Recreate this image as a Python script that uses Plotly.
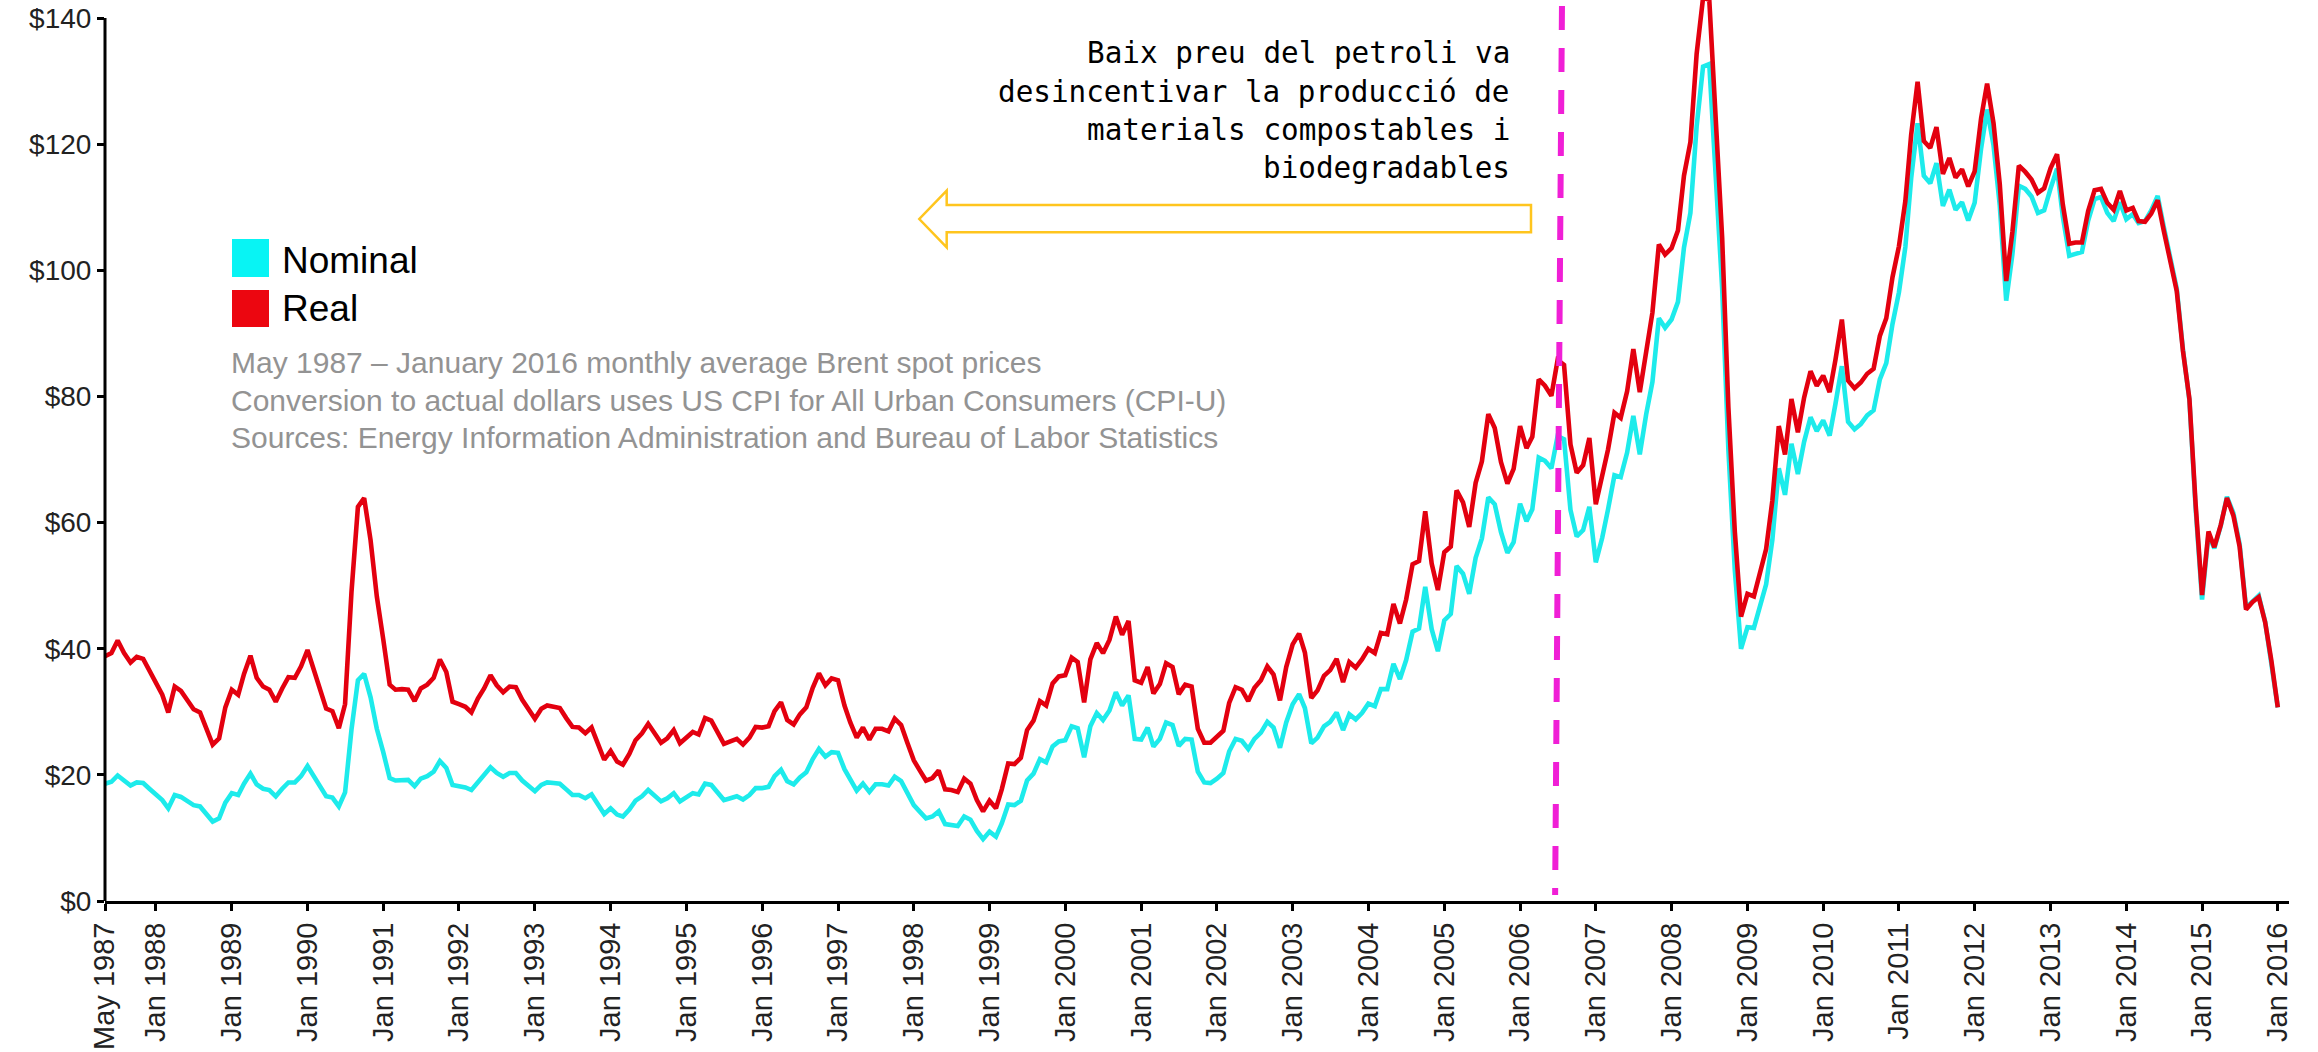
import plotly.graph_objects as go
import pandas as pd

# ---------------- data (monthly average Brent spot, USD/bbl) ----------------
START_MONTH = "1987-05-01"

nominal = [
    # 1987 May-Dec
    18.6, 18.9, 19.9, 19.0, 18.3, 18.8, 18.7, 17.8,
    # 1988
    16.8, 16.0, 14.7, 16.8, 16.5, 15.8, 15.2, 15.0, 13.8, 12.6, 13.1, 15.6,
    # 1989
    17.1, 16.8, 18.6, 20.2, 18.5, 17.8, 17.6, 16.6, 17.8, 18.8, 18.8, 19.8,
    # 1990
    21.4, 19.8, 18.4, 16.6, 16.4, 15.0, 17.2, 27.2, 35.0, 36.0, 32.3, 27.3,
    # 1991
    23.6, 19.5, 19.1, 19.2, 19.2, 18.2, 19.4, 19.8, 20.5, 22.2, 21.1, 18.4,
    # 1992
    18.2, 18.0, 17.6, 18.9, 19.9, 21.2, 20.3, 19.7, 20.3, 20.3, 19.1, 18.2,
    # 1993
    17.4, 18.4, 18.8, 18.7, 18.6, 17.7, 16.8, 16.8, 16.3, 16.9, 15.2, 13.8,
    # 1994
    14.7, 13.7, 13.4, 14.5, 15.9, 16.6, 17.6, 16.7, 15.8, 16.3, 17.1, 15.8,
    # 1995
    16.5, 17.1, 16.9, 18.6, 18.4, 17.2, 16.0, 16.3, 16.6, 16.1, 16.8, 17.9,
    # 1996
    17.9, 18.1, 19.8, 20.8, 19.0, 18.5, 19.6, 20.4, 22.5, 24.1, 22.9, 23.6,
    # 1997
    23.5, 20.9, 19.1, 17.5, 18.6, 17.3, 18.5, 18.5, 18.3, 19.7, 19.0, 17.1,
    # 1998
    15.2, 14.1, 13.1, 13.4, 14.2, 12.2, 12.1, 11.9, 13.4, 12.9, 11.1, 9.8,
    # 1999
    11.0, 10.2, 12.3, 15.3, 15.2, 15.9, 19.1, 20.2, 22.5, 22.0, 24.5, 25.3,
    # 2000
    25.5, 27.7, 27.4, 22.8, 27.7, 29.8, 28.7, 30.2, 33.1, 31.0, 32.6, 25.7,
    # 2001
    25.6, 27.5, 24.5, 25.7, 28.3, 27.9, 24.6, 25.7, 25.6, 20.5, 18.8, 18.7,
    # 2002
    19.4, 20.3, 23.7, 25.7, 25.4, 24.1, 25.7, 26.7, 28.4, 27.5, 24.3, 28.3,
    # 2003
    31.2, 32.8, 30.6, 25.0, 25.9, 27.7, 28.4, 29.9, 27.1, 29.6, 28.8, 29.8,
    # 2004
    31.3, 30.9, 33.6, 33.6, 37.6, 35.2, 38.2, 42.7, 43.2, 49.8, 43.1, 39.6,
    # 2005
    44.5, 45.5, 53.1, 51.9, 48.7, 54.4, 57.5, 64.0, 62.9, 58.5, 55.2, 56.9,
    # 2006
    63.0, 60.2, 62.1, 70.3, 69.8, 68.6, 73.7, 73.2, 62.0, 57.8, 58.8, 62.5,
    # 2007
    53.7, 57.6, 62.1, 67.5, 67.2, 71.1, 76.9, 70.8, 77.2, 82.3, 92.4, 90.9,
    # 2008
    92.2, 95.0, 103.6, 109.1, 122.8, 132.3, 132.7, 113.2, 97.2, 71.6, 52.5, 40.0,
    # 2009
    43.4, 43.3, 46.5, 50.2, 57.3, 68.6, 64.4, 72.5, 67.7, 72.8, 76.7, 74.5,
    # 2010
    76.2, 73.8, 78.8, 84.8, 76.0, 74.8, 75.6, 77.0, 77.8, 82.7, 85.3, 91.5,
    # 2011
    96.5, 103.7, 114.6, 123.3, 115.0, 113.8, 117.0, 110.2, 112.8, 109.6, 110.8, 107.9,
    # 2012
    110.7, 119.3, 125.5, 119.8, 110.3, 95.2, 102.6, 113.4, 112.9, 111.7, 109.1, 109.5,
    # 2013
    113.0, 116.1, 108.5, 102.3, 102.6, 102.9, 107.9, 111.3, 111.6, 109.1, 107.8, 110.8,
    # 2014
    108.1, 108.9, 107.5, 107.8, 109.5, 111.8, 106.8, 101.6, 97.1, 87.4, 79.4, 62.3,
    # 2015
    47.8, 58.1, 55.9, 59.5, 64.1, 61.5, 56.6, 46.5, 47.6, 48.4, 44.3, 38.0,
    # 2016 Jan
    30.7,
]

real = [
    # 1987 May-Dec
    38.8, 39.3, 41.3, 39.3, 37.8, 38.7, 38.4, 36.5,
    # 1988
    34.4, 32.7, 29.9, 34.0, 33.3, 31.7, 30.4, 29.9, 27.3, 24.8, 25.8, 30.7,
    # 1989
    33.5, 32.7, 36.0, 38.9, 35.4, 34.0, 33.5, 31.6, 33.7, 35.5, 35.4, 37.2,
    # 1990
    39.8, 36.6, 33.9, 30.5, 30.1, 27.4, 31.2, 49.0, 62.5, 63.9, 57.2, 48.3,
    # 1991
    41.5, 34.3, 33.5, 33.6, 33.5, 31.7, 33.7, 34.3, 35.4, 38.3, 36.3, 31.6,
    # 1992
    31.2, 30.8, 29.9, 32.1, 33.7, 35.8, 34.2, 33.1, 34.0, 33.9, 31.9, 30.4,
    # 1993
    28.9, 30.5, 31.0, 30.8, 30.6, 29.0, 27.6, 27.5, 26.6, 27.5, 24.7, 22.4,
    # 1994
    23.8, 22.1, 21.6, 23.3, 25.5, 26.6, 28.1, 26.6, 25.1, 25.8, 27.1, 25.0,
    # 1995
    26.0, 26.8, 26.4, 29.0, 28.6, 26.7, 24.9, 25.3, 25.7, 24.8, 25.9, 27.6,
    # 1996
    27.5, 27.7, 30.1, 31.5, 28.7, 28.0, 29.6, 30.7, 33.8, 36.1, 34.2, 35.3,
    # 1997
    35.0, 31.0, 28.3, 25.9, 27.5, 25.6, 27.3, 27.3, 26.9, 28.9, 27.9, 25.1,
    # 1998
    22.3, 20.6, 19.1, 19.5, 20.7, 17.7, 17.6, 17.3, 19.4, 18.6, 16.0, 14.2,
    # 1999
    15.9, 14.7, 17.7, 21.8, 21.7, 22.7, 27.1, 28.6, 31.7, 31.0, 34.5, 35.6,
    # 2000
    35.8, 38.6, 37.9, 31.5, 38.3, 40.9, 39.3, 41.4, 45.1, 42.2, 44.4, 35.0,
    # 2001
    34.6, 37.1, 32.9, 34.4, 37.7, 37.1, 32.8, 34.3, 34.0, 27.3, 25.1, 25.1,
    # 2002
    26.0, 27.0, 31.4, 33.9, 33.5, 31.7, 33.8, 35.0, 37.2, 35.9, 31.8, 37.1,
    # 2003
    40.7, 42.4, 39.4, 32.2, 33.4, 35.7, 36.6, 38.4, 34.7, 37.9, 37.0, 38.3,
    # 2004
    40.0, 39.3, 42.5, 42.3, 47.1, 44.0, 47.8, 53.4, 53.9, 61.8, 53.5, 49.3,
    # 2005
    55.3, 56.2, 65.1, 63.2, 59.3, 66.3, 69.7, 77.2, 75.0, 69.6, 66.2, 68.5,
    # 2006
    75.3, 71.8, 73.6, 82.7, 81.7, 80.1, 85.8, 85.0, 72.4, 67.9, 69.1, 73.4,
    # 2007
    62.9, 67.1, 71.6, 77.4, 76.6, 80.8, 87.5, 80.7, 87.7, 93.3, 104.1, 102.5,
    # 2008
    103.5, 106.3, 115.0, 120.3, 134.3, 143.2, 142.9, 122.4, 105.2, 78.3, 58.6, 45.1,
    # 2009
    48.7, 48.3, 51.8, 55.8, 63.5, 75.3, 70.8, 79.6, 74.3, 79.8, 84.0, 81.7,
    # 2010
    83.3, 80.7, 85.8, 92.2, 82.5, 81.3, 82.2, 83.6, 84.4, 89.6, 92.4, 98.9,
    # 2011
    103.8, 111.0, 121.5, 129.9, 120.5, 119.4, 122.7, 115.3, 117.8, 114.7, 116.0, 113.3,
    # 2012
    115.7, 124.1, 129.6, 123.3, 113.7, 98.3, 106.1, 116.6, 115.6, 114.4, 112.3, 113.0,
    # 2013
    116.2, 118.4, 110.4, 104.2, 104.4, 104.4, 109.4, 112.7, 112.9, 110.7, 109.6, 112.6,
    # 2014
    109.5, 109.9, 107.8, 107.7, 109.0, 111.1, 106.2, 101.2, 96.7, 87.2, 79.6, 62.9,
    # 2015
    48.5, 58.6, 56.1, 59.6, 63.9, 61.1, 56.2, 46.2, 47.4, 48.2, 44.2, 38.1,
    # 2016 Jan
    30.7,
]

x_tick_labels = [
    "May 1987", "Jan 1988", "Jan 1989", "Jan 1990", "Jan 1991", "Jan 1992",
    "Jan 1993", "Jan 1994", "Jan 1995", "Jan 1996", "Jan 1997", "Jan 1998",
    "Jan 1999", "Jan 2000", "Jan 2001", "Jan 2002", "Jan 2003", "Jan 2004",
    "Jan 2005", "Jan 2006", "Jan 2007", "Jan 2008", "Jan 2009", "Jan 2010",
    "Jan 2011", "Jan 2012", "Jan 2013", "Jan 2014", "Jan 2015", "Jan 2016",
]
y_tick_values = [0, 20, 40, 60, 80, 100, 120, 140]
y_tick_labels = ["$0", "$20", "$40", "$60", "$80", "$100", "$120", "$140"]

series_names = ["Nominal", "Real"]
note_lines = [
    "May 1987 \u2013 January 2016 monthly average Brent spot prices",
    "Conversion to actual dollars uses US CPI for All Urban Consumers (CPI-U)",
    "Sources: Energy Information Administration and Bureau of Labor Statistics",
]
callout_lines = [
    "Baix preu del petroli va",
    "desincentivar la producció de",
    "materials compostables i",
    "biodegradables",
]
marker_date_top = "2006-07-22"
marker_date_bottom = "2006-06-19"

# ---------------- styling ----------------
W, H = 2318, 1052
ML, MR, MT, MB = 105, 29, 0, 151
PW, PH = W - ML - MR, H - MT - MB
Y_MAX = 142.86

CYAN = "#1DEBEB"
RED = "#E3000F"
CYAN_SW = "#08F4F4"
RED_SW = "#EC0610"
MAGENTA = "#F01FD6"
GOLD = "#FFC51E"
SANS = "Liberation Sans, Arial, sans-serif"
MONO = "DejaVu Sans Mono, monospace"


def px(xp):
    return (xp - ML) / PW


def py(yp):
    return (H - MB - yp) / PH


months = pd.date_range(START_MONTH, periods=len(nominal), freq="MS")
tick_vals = pd.to_datetime(x_tick_labels, format="%b %Y")

fig = go.Figure()
fig.add_trace(go.Scatter(x=months, y=nominal, mode="lines", name=series_names[0],
                         line=dict(color=CYAN, width=4.6), showlegend=False))
fig.add_trace(go.Scatter(x=months, y=real, mode="lines", name=series_names[1],
                         line=dict(color=RED, width=4.6), showlegend=False))

shapes = []
# y axis line (only up to $140)
shapes.append(dict(type="line", xref="paper", yref="paper", x0=0, x1=0,
                   y0=0, y1=140 / Y_MAX, line=dict(color="black", width=3),
                   layer="above"))
# magenta dashed marker
shapes.append(dict(type="line", xref="x", yref="y",
                   x0=marker_date_top, y0=141.9, x1=marker_date_bottom, y1=0.95,
                   line=dict(color=MAGENTA, width=6, dash="24px,18px"),
                   layer="above"))
# arrow outline
pts = [(1531, 205), (946.7, 205), (946.7, 190.7), (919.3, 219),
       (946.7, 247.3), (946.7, 232.3), (1531, 232.3)]
path = "M " + " L ".join(f"{px(a):.5f},{py(b):.5f}" for a, b in pts) + " Z"
shapes.append(dict(type="path", xref="paper", yref="paper", path=path,
                   line=dict(color=GOLD, width=2.5), fillcolor="rgba(0,0,0,0)",
                   layer="above"))
# legend swatches
shapes.append(dict(type="rect", xref="paper", yref="paper",
                   x0=px(232), x1=px(269), y0=py(277), y1=py(239),
                   fillcolor=CYAN_SW, line=dict(width=0)))
shapes.append(dict(type="rect", xref="paper", yref="paper",
                   x0=px(232), x1=px(269), y0=py(327), y1=py(290),
                   fillcolor=RED_SW, line=dict(width=0)))

annotations = []
for name, cy in zip(series_names, [260.5, 308.9]):
    annotations.append(dict(text=name, xref="paper", yref="paper", x=px(281),
                            y=py(cy), xanchor="left", yanchor="middle",
                            showarrow=False, borderpad=0,
                            font=dict(family=SANS, size=37, color="#000000")))
for line, cy in zip(note_lines, [362.9, 400.1, 437.3]):
    annotations.append(dict(text=line, xref="paper", yref="paper", x=px(230),
                            y=py(cy), xanchor="left", yanchor="middle",
                            showarrow=False, borderpad=0,
                            font=dict(family=SANS, size=30, color="#939393")))
for line, cy in zip(callout_lines, [53.2, 91.6, 129.9, 168.2]):
    annotations.append(dict(text=line, xref="paper", yref="paper", x=px(1511),
                            y=py(cy), xanchor="right", yanchor="middle",
                            showarrow=False, borderpad=0,
                            font=dict(family=MONO, size=29.3, color="#000000")))

fig.update_layout(
    width=W, height=H,
    margin=dict(l=ML, r=MR, t=MT, b=MB, pad=0, autoexpand=False),
    paper_bgcolor="white", plot_bgcolor="white",
    showlegend=False,
    shapes=shapes, annotations=annotations,
    xaxis=dict(type="date", range=["1987-05-01", "2016-02-24"],
               showgrid=False, zeroline=False,
               showline=True, linecolor="black", linewidth=3,
               ticks="outside", ticklen=7, tickwidth=3, tickcolor="black",
               tickvals=tick_vals, ticktext=x_tick_labels, tickangle=-90,
               tickfont=dict(family=SANS, size=29, color="#222222")),
    yaxis=dict(range=[0, Y_MAX], showgrid=False, zeroline=False, showline=False,
               ticks="outside", ticklen=7, tickwidth=3, tickcolor="black",
               tickvals=y_tick_values, ticktext=y_tick_labels,
               tickfont=dict(family=SANS, size=28, color="#222222")),
)

fig.write_html("out.html", config={"displayModeBar": False},
               post_script="document.body.style.margin='0';document.body.style.overflow='hidden';")
